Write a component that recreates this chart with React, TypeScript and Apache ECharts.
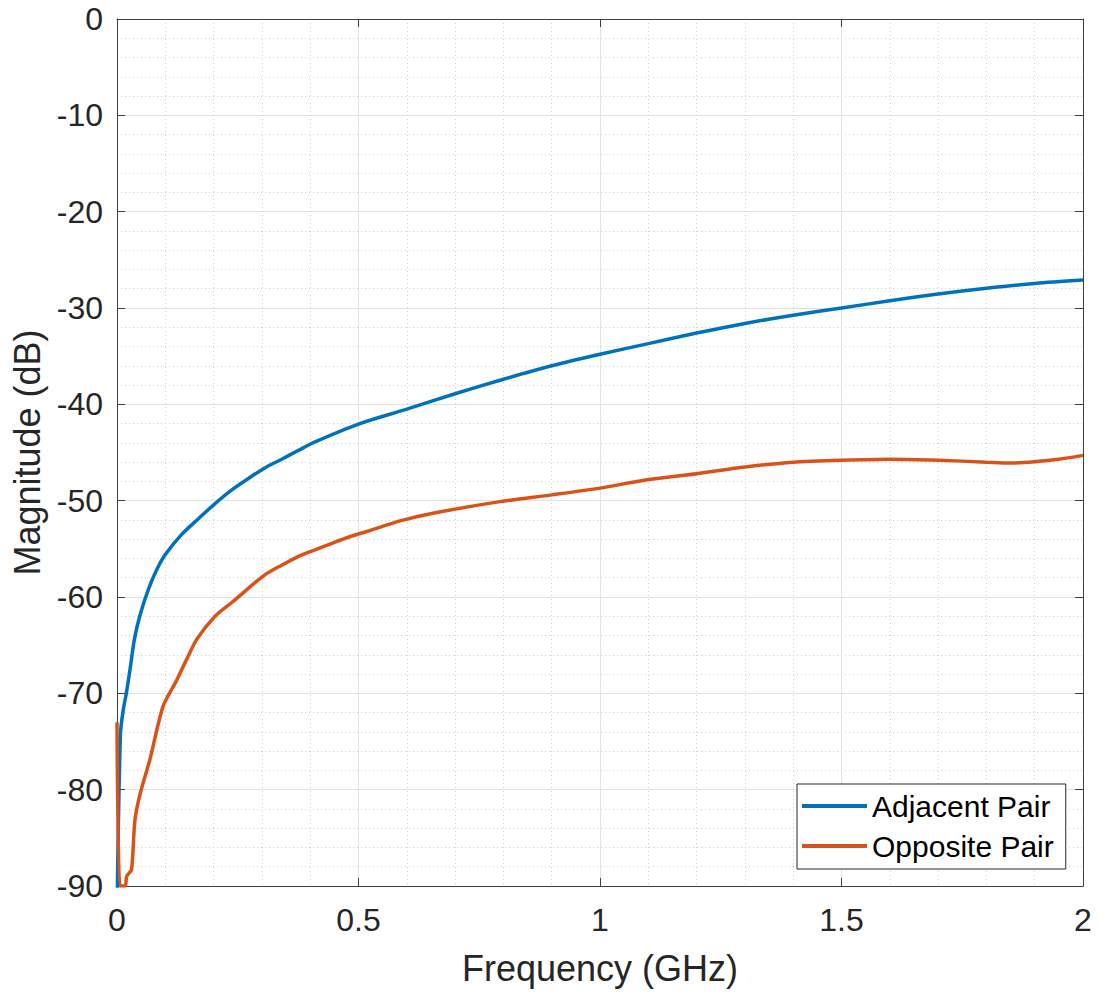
import React, { useEffect, useRef } from "react";
import * as echarts from "echarts";

const xTicks = [0, 0.5, 1, 1.5, 2];
const yTicks = [0, -10, -20, -30, -40, -50, -60, -70, -80, -90];

const adjFreq = [0, 0.007, 0.013, 0.02, 0.027, 0.036, 0.047, 0.065, 0.082, 0.1, 0.134, 0.168, 0.203, 0.237, 0.272, 0.306, 0.341, 0.375, 0.41, 0.5, 0.6, 0.7, 0.8, 0.9, 1.0, 1.1, 1.2, 1.3, 1.4, 1.5, 1.6, 1.7, 1.8, 1.9, 2.0];
const adjMag = [-93, -74.3, -71.7, -69.8, -67.5, -64.4, -62.0, -59.2, -57.2, -55.6, -53.5, -51.9, -50.3, -48.9, -47.7, -46.6, -45.7, -44.8, -43.9, -42.05, -40.5, -38.9, -37.4, -36.0, -34.8, -33.7, -32.6, -31.6, -30.75, -30.0, -29.25, -28.55, -27.95, -27.45, -27.1];

const oppFreq = [0, 0.006, 0.017, 0.02, 0.03, 0.037, 0.048, 0.068, 0.095, 0.124, 0.144, 0.165, 0.203, 0.237, 0.272, 0.306, 0.341, 0.375, 0.41, 0.444, 0.479, 0.517, 0.586, 0.654, 0.793, 0.9, 1.0, 1.1, 1.2, 1.3, 1.4, 1.5, 1.6, 1.7, 1.8, 1.85, 1.9, 1.95, 2.0];
const oppMag = [-73, -90, -90, -89, -88.3, -83.2, -80.4, -76.9, -71.4, -68.6, -66.5, -64.4, -62.0, -60.6, -59.1, -57.7, -56.7, -55.8, -55.1, -54.45, -53.8, -53.2, -52.1, -51.3, -50.1, -49.4, -48.7, -47.8, -47.2, -46.5, -46.0, -45.8, -45.7, -45.8, -46.0, -46.1, -45.95, -45.7, -45.3];

const seriesNames = ["Adjacent Pair", "Opposite Pair"];
const xName = "Frequency (GHz)";
const yName = "Magnitude (dB)";

const FONT = "Liberation Sans, Arial, Helvetica, sans-serif";
const TXT = "#262626";
const AX = "#404040";

export default function App() {
  const ref = useRef<HTMLDivElement>(null);
  useEffect(() => {
    document.body.style.margin = "0";
    const chart = echarts.init(ref.current!, null, { renderer: "svg" });
    const xBase = {
      type: "value" as const,
      min: xTicks[0],
      max: xTicks[xTicks.length - 1],
      interval: 0.5,
    };
    const yBase = {
      type: "value" as const,
      min: yTicks[yTicks.length - 1],
      max: yTicks[0],
      interval: 10,
    };
    chart.setOption({
      animation: false,
      backgroundColor: "#ffffff",
      textStyle: { fontFamily: FONT },
      grid: { left: 117, top: 19, right: 19, bottom: 108, containLabel: false },
      legend: {
        data: seriesNames,
        orient: "vertical",
        left: 797,
        top: 784,
        backgroundColor: "#ffffff",
        borderColor: TXT,
        borderWidth: 1,
        borderRadius: 0,
        padding: [7, 12, 8, 5],
        icon: "rect",
        itemWidth: 65,
        itemHeight: 4,
        itemGap: 10,
        textStyle: { fontSize: 30, color: "#000", fontFamily: FONT, lineHeight: 30 },
      },
      xAxis: [
        {
          ...xBase,
          position: "bottom",
          name: xName,
          nameLocation: "middle",
          nameGap: 64,
          nameTextStyle: { fontSize: 36, color: TXT, fontFamily: FONT },
          axisLine: { show: true, onZero: false, lineStyle: { color: AX, width: 1 } },
          axisTick: { show: true, inside: true, length: 8, lineStyle: { color: AX } },
          axisLabel: {
            fontSize: 32,
            color: TXT,
            margin: 18,
            fontFamily: FONT,
            formatter: (v: number) => String(v),
          },
          splitLine: { show: true, lineStyle: { color: "#e2e2e2", width: 1 } },
          minorTick: { show: false, splitNumber: 5 },
          minorSplitLine: { show: true, lineStyle: { color: "#cfcfcf", width: 1, type: [1, 3] } },
        },
        {
          ...xBase,
          position: "top",
          axisLine: { show: true, onZero: false, lineStyle: { color: AX, width: 1 } },
          axisTick: { show: true, inside: true, length: 8, lineStyle: { color: AX } },
          axisLabel: { show: false },
          splitLine: { show: false },
        },
      ],
      yAxis: [
        {
          ...yBase,
          position: "left",
          name: yName,
          nameLocation: "middle",
          nameGap: 70,
          nameTextStyle: { fontSize: 36, color: TXT, fontFamily: FONT },
          axisLine: { show: true, onZero: false, lineStyle: { color: AX, width: 1 } },
          axisTick: { show: true, inside: true, length: 8, lineStyle: { color: AX } },
          axisLabel: { fontSize: 32, color: TXT, margin: 14, fontFamily: FONT },
          splitLine: { show: true, lineStyle: { color: "#e2e2e2", width: 1 } },
          minorTick: { show: false, splitNumber: 5 },
          minorSplitLine: { show: true, lineStyle: { color: "#cfcfcf", width: 1, type: [1, 3] } },
        },
        {
          ...yBase,
          position: "right",
          axisLine: { show: true, onZero: false, lineStyle: { color: AX, width: 1 } },
          axisTick: { show: true, inside: true, length: 8, lineStyle: { color: AX } },
          axisLabel: { show: false },
          splitLine: { show: false },
        },
      ],
      series: [
        {
          name: seriesNames[0],
          type: "line",
          xAxisIndex: 0,
          yAxisIndex: 0,
          data: adjFreq.map((f, i) => [f, adjMag[i]]),
          showSymbol: false,
          symbol: "none",
          smooth: 0.3,
          clip: true,
          color: "#0072BD",
          lineStyle: { color: "#0072BD", width: 3.5 },
          z: 3,
        },
        {
          name: seriesNames[1],
          type: "line",
          xAxisIndex: 0,
          yAxisIndex: 0,
          data: oppFreq.map((f, i) => [f, oppMag[i]]),
          showSymbol: false,
          symbol: "none",
          smooth: 0.25,
          clip: true,
          color: "#D95319",
          lineStyle: { color: "#D95319", width: 3.5 },
          z: 4,
        },
      ],
    });
    return () => chart.dispose();
  }, []);
  return <div ref={ref} style={{ width: 1102, height: 994 }} />;
}
